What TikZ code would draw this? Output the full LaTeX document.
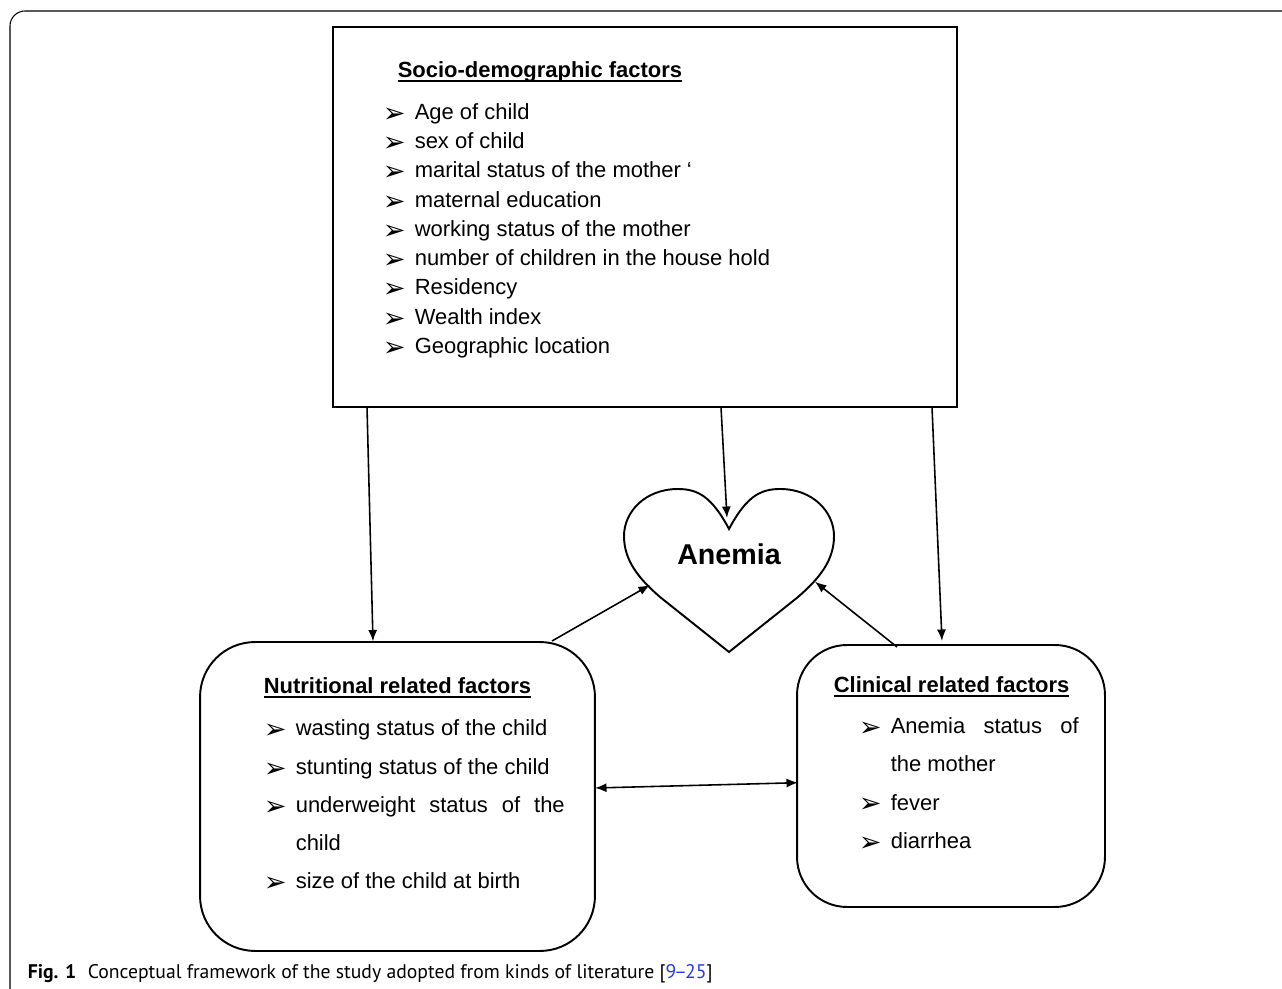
\documentclass[tikz,border=0pt]{standalone}
\usepackage{fontspec}
\setmainfont{Liberation Sans}
\newfontfamily\capfont{PT Sans}
\newfontfamily\dingfont{DejaVu Sans}
\usetikzlibrary{arrows.meta}
\definecolor{refblue}{RGB}{40,60,220}
\newcommand\headline[1]{\setbox0\hbox{\bfseries #1}\rlap{\rule[-2.4pt]{\wd0}{1.1pt}}\box0}

\begin{document}
\begin{tikzpicture}[x=0.02cm, y=-0.02cm, line width=0.9pt,
    >={Latex[length=2.3mm,width=1.8mm]},
    box/.style={draw, line width=1.1pt, inner sep=0pt},
    factor/.style={anchor=base west, inner sep=0pt, font=\fontsize{12.5}{15}\selectfont},
    bul/.style={anchor=base west, inner sep=0pt, yshift=-1.6pt, font=\dingfont\fontsize{15.5}{18}\selectfont}]
    \useasboundingbox (0,0) rectangle (1282,989);
    \draw [line width=0.6pt, rounded corners=0.3cm] (10,1000) -- (10,11) -- (1290,11);

    \node [box, minimum width=12.48cm, minimum height=7.6cm] (soc) at (645,217) {};
    \node [box, rounded corners=1.1cm, minimum width=7.9cm, minimum height=6.18cm] (nut) at (397.5,796.5) {};
    \node [box, rounded corners=1cm, minimum width=6.16cm, minimum height=5.24cm] (cli) at (951,776) {};

    \draw [line width=1.1pt] (729,529) .. controls (712,497) and (698,489) .. (678,489)
        .. controls (645,489) and (624,512) .. (624,536)
        .. controls (624,560) and (638,578) .. (660,597) -- (729,652) -- (798,597)
        .. controls (820,578) and (834,560) .. (834,536)
        .. controls (834,512) and (813,489) .. (780,489)
        .. controls (760,489) and (746,497) .. (729,529) -- cycle;
    \node [anchor=base, inner sep=0pt, font=\bfseries\fontsize{16.3}{19}\selectfont] (anemia) at (729,565) {Anemia};

    \node [factor] (soct) at (397,78) {\headline{Socio-demographic factors}};
    \foreach \txt [count=\i from 0] in {Age of child, sex of child, marital status of the mother ‘,
        maternal education, working status of the mother, number of children in the house hold,
        Residency, Wealth index, Geographic location}{
        \node [bul] (sb\i) at (382,119.5+29.25*\i) {➢};
        \node [factor] (st\i) at (414,119.5+29.25*\i) {\txt};
    }

    \node [factor] (nutt) at (263,693.3) {\headline{Nutritional related factors}};
    \node [bul] (nb0) at (263,736) {➢};
    \node [factor] (nt0) at (295,736) {wasting status of the child};
    \node [bul] (nb1) at (263,774.3) {➢};
    \node [factor] (nt1) at (295,774.3) {stunting status of the child};
    \node [bul] (nb2) at (263,812.7) {➢};
    \node [factor] (nt2) at (295,812.7) {\makebox[5.38cm][s]{underweight status of the}};
    \node [factor] (nt2b) at (295,850) {child};
    \node [bul] (nb3) at (263,888.3) {➢};
    \node [factor] (nt3) at (295,888.3) {size of the child at birth};

    \node [factor] (clit) at (833,692.7) {\headline{Clinical related factors}};
    \node [bul] (cb0) at (858,734) {➢};
    \node [factor] (ct0) at (890,734) {\makebox[3.76cm][s]{Anemia status of}};
    \node [factor] (ct0b) at (890,771.7) {the mother};
    \node [bul] (cb1) at (858,810) {➢};
    \node [factor] (ct1) at (890,810) {fever};
    \node [bul] (cb2) at (858,848.3) {➢};
    \node [factor] (ct2) at (890,848.3) {diarrhea};

    \coordinate (s1) at (367,407);
    \coordinate (s2) at (721,407);
    \coordinate (s3) at (932,407);
    \coordinate (n1) at (373,641.5);
    \coordinate (n2) at (552,641);
    \coordinate (n3) at (595,788);
    \coordinate (c1) at (942,641);
    \coordinate (c2) at (897,647);
    \coordinate (c3) at (798,782.7);
    \coordinate (h1) at (727,518);
    \coordinate (h2) at (650,585);
    \coordinate (h3) at (815,581.7);
    \draw [->] (s1) -- (n1);
    \draw [->] (s2) -- (h1);
    \draw [->] (s3) -- (c1);
    \draw [->] (n2) -- (h2);
    \draw [->] (c2) -- (h3);
    \draw [<->] (n3) -- (c3);

    \node [anchor=base west, inner sep=0pt, font=\capfont\bfseries\fontsize{11.2}{13}\selectfont] (fig) at (27,978) {Fig. 1};
    \node [anchor=base west, inner sep=0pt, font=\capfont\fontsize{11.2}{13}\selectfont] (cap) at (87,978)
        {Conceptual framework of the study adopted from kinds of literature [\textcolor{refblue}{9\kern-1.2pt–\kern-1.2pt25}]};
\end{tikzpicture}
\end{document}
